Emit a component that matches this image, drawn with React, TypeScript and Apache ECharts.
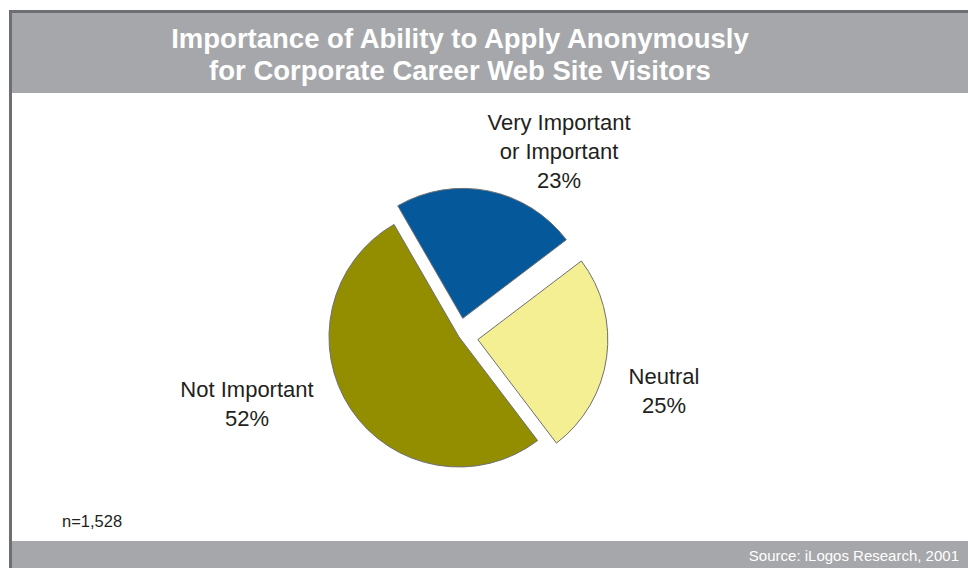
import React, { useEffect, useRef } from "react";
import * as echarts from "echarts";

const titleLines = [
  "Importance of Ability to Apply Anonymously",
  "for Corporate Career Web Site Visitors",
];
const categories = ["Very Important\nor Important", "Neutral", "Not Important"];
const values = [23, 25, 52];
const exploded = [true, true, false];
const sampleNote = "n=1,528";
const sourceNote = "Source: iLogos Research, 2001";

const sliceColors = ["#05599b", "#f3ef92", "#938e00"];
const labelPos = [
  [559, 151],
  [664, 391],
  [247, 404],
];

export default function App() {
  const ref = useRef<HTMLDivElement>(null);
  useEffect(() => {
    if (!ref.current) return;
    const chart = echarts.init(ref.current, null, { renderer: "svg" });
    const font = "'Liberation Sans', Arial, sans-serif";
    const labelTexts = categories.map((name, i) => ({
      type: "text",
      x: labelPos[i][0],
      y: labelPos[i][1],
      style: {
        text: `${name}\n${values[i]}%`,
        fill: "#231f20",
        font: `22px ${font}`,
        lineHeight: 29,
        textAlign: "center",
        textVerticalAlign: "middle",
      },
      z: 10,
      zlevel: 0,
    }));
    chart.setOption({
      animation: false,
      backgroundColor: "#ffffff",
      graphic: [
        { type: "rect", shape: { x: 9, y: 10, width: 959, height: 558 }, style: { fill: "#6e6f72" }, z: 0 },
        { type: "rect", shape: { x: 12, y: 13, width: 956, height: 555 }, style: { fill: "#ffffff" }, z: 0 },
        { type: "rect", shape: { x: 12, y: 13, width: 956, height: 80 }, style: { fill: "#a6a7aa" }, z: 0 },
        { type: "rect", shape: { x: 12, y: 541, width: 956, height: 27 }, style: { fill: "#a6a7aa" }, z: 0 },
        {
          type: "text",
          x: 460,
          y: 54,
          style: {
            text: titleLines.join("\n"),
            fill: "#ffffff",
            font: `bold 27.5px ${font}`,
            lineHeight: 32,
            textAlign: "center",
            textVerticalAlign: "middle",
          },
          z: 1,
        },
        {
          type: "text",
          x: 62,
          y: 521,
          style: { text: sampleNote, fill: "#231f20", font: `16.5px ${font}`, textAlign: "left", textVerticalAlign: "middle" },
          z: 1,
        },
        {
          type: "text",
          x: 959,
          y: 555,
          style: { text: sourceNote, fill: "#ffffff", font: `15px ${font}`, textAlign: "right", textVerticalAlign: "middle" },
          z: 1,
        },
        ...labelTexts,
      ],
      series: [
        {
          type: "pie",
          center: [459, 337],
          radius: 130,
          startAngle: 120,
          clockwise: true,
          selectedMode: "multiple",
          selectedOffset: 19,
          silent: true,
          itemStyle: { borderColor: "#6e6f72", borderWidth: 1 },
          label: { show: false },
          labelLine: { show: false },
          emphasis: { disabled: true },
          data: categories.map((name, i) => ({
            name,
            value: values[i],
            selected: exploded[i],
            itemStyle: { color: sliceColors[i] },
          })),
        },
      ],
    });
    return () => chart.dispose();
  }, []);
  return (
    <div
      ref={ref}
      style={{ position: "fixed", left: 0, top: 0, width: 968, height: 568 }}
    />
  );
}
